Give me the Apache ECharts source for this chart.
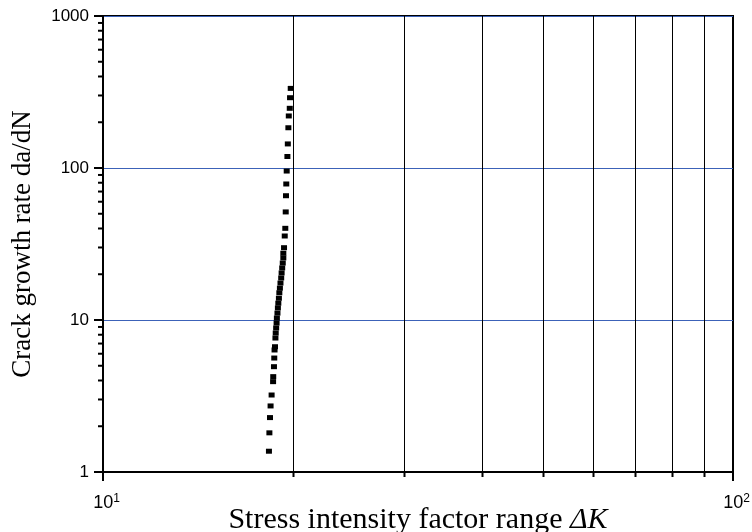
<!DOCTYPE html>
<html>
<head>
<meta charset="utf-8">
<script src="https://cdn.jsdelivr.net/npm/echarts@6/dist/echarts.min.js"></script>
<style>
  html, body { margin: 0; padding: 0; background: #fff; }
  #main { width: 752px; height: 532px; }
</style>
</head>
<body>
<div id="main"></div>
<script>
// measured points: stress intensity factor range (x), crack growth rate (y)
var deltaK = [
  19.86, 19.81, 19.79, 19.72, 19.69, 19.65, 19.62, 19.57, 19.54, 19.52,
  19.50, 19.47, 19.43, 19.38, 19.33,
  19.33, 19.29, 19.25, 19.21, 19.18, 19.13, 19.09, 19.05, 19.02, 18.98,
  18.95, 18.92, 18.88, 18.86, 18.83, 18.80, 18.78,
  18.75, 18.72, 18.70, 18.68, 18.63, 18.62, 18.52, 18.45, 18.41, 18.37, 18.34
];
var rate = [
  334, 290, 247, 220, 184, 144, 119, 95.5, 78.5, 65.7,
  51.4, 40.1, 35.7, 29.9, 27.5,
  25.6, 23.7, 22.0, 20.4, 18.9, 17.5, 16.2, 15.1, 13.9, 12.9,
  12.0, 11.1, 10.3, 9.55, 8.86, 8.21, 7.61,
  6.67, 6.35, 5.62, 4.93, 4.24, 3.93, 3.21, 2.72, 2.28, 1.81, 1.37
];

// minor tick positions for the two log axes
var xMinorTicks = [20, 30, 40, 50, 60, 70, 80, 90];
var yMinorTicks = [2, 3, 4, 5, 6, 7, 8, 9, 20, 30, 40, 50, 60, 70, 80, 90,
                   200, 300, 400, 500, 600, 700, 800, 900];

var points = [];
for (var i = 0; i < deltaK.length; i++) {
  points.push([deltaK[i], rate[i]]);
}

var labelFont = "'Liberation Sans', Arial, sans-serif";
var titleFont = "'Liberation Serif', 'Times New Roman', serif";

var myChart = echarts.init(document.getElementById('main'));

option = {
  backgroundColor: '#fff',
  animation: false,
  grid: {
    left: 103,
    right: 19,
    top: 16,
    bottom: 60,
    outerBoundsMode: 'none',
    containLabel: false,
    show: true,
    borderColor: '#000',
    borderWidth: 2,
    backgroundColor: 'transparent'
  },
  xAxis: {
    type: 'log',
    logBase: 10,
    min: 10,
    max: 100,
    name: 'Stress intensity factor range {i|ΔK}',
    nameLocation: 'middle',
    nameGap: 33,
    nameMoveOverlap: false,
    nameTextStyle: {
      fontFamily: titleFont,
      fontSize: 30,
      color: '#000',
      rich: {
        i: { fontFamily: titleFont, fontSize: 30, fontStyle: 'italic', color: '#000' }
      }
    },
    axisLine: { show: true, lineStyle: { color: '#000', width: 2 } },
    axisTick: { show: true, inside: false, length: 9, lineStyle: { color: '#000', width: 2 } },
    splitLine: { show: false },
    axisLabel: {
      margin: 21,
      color: '#000',
      padding: [0, 0, 0, 7],
      formatter: function (v) {
        return '{b|10}{sup|' + Math.round(Math.log(v) / Math.LN10) + '}';
      },
      rich: {
        b: { fontFamily: labelFont, fontSize: 18, lineHeight: 20, color: '#000' },
        sup: { fontFamily: labelFont, fontSize: 12, lineHeight: 6, verticalAlign: 'top', color: '#000' }
      }
    }
  },
  yAxis: {
    type: 'log',
    logBase: 10,
    min: 1,
    max: 1000,
    name: 'Crack growth rate da/dN',
    nameLocation: 'middle',
    nameGap: 67,
    nameMoveOverlap: false,
    nameTextStyle: {
      fontFamily: titleFont,
      fontSize: 27,
      color: '#000'
    },
    axisLine: { show: true, lineStyle: { color: '#000', width: 2 } },
    axisTick: { show: true, inside: false, length: 9, lineStyle: { color: '#000', width: 2 } },
    splitLine: { show: true, lineStyle: { color: '#3c62b8', width: 1 } },
    axisLabel: {
      margin: 14,
      color: '#000',
      fontFamily: labelFont,
      fontSize: 17,
      formatter: function (v) { return String(Math.round(v)); }
    }
  },
  series: [
    {
      // vertical grid lines at the minor x positions + their short ticks
      type: 'custom',
      silent: true,
      clip: false,
      z: 1,
      data: xMinorTicks.map(function (v) { return [v, 1]; }),
      renderItem: function (params, api) {
        var bottom = api.coord([api.value(0), 1]);
        var top = api.coord([api.value(0), 1000]);
        var x = Math.round(bottom[0]) + 0.5;
        return {
          type: 'group',
          children: [
            { type: 'line', shape: { x1: x, y1: top[1], x2: x, y2: bottom[1] }, style: { stroke: '#000', lineWidth: 1 } },
            { type: 'line', shape: { x1: x, y1: bottom[1], x2: x, y2: bottom[1] + 5 }, style: { stroke: '#000', lineWidth: 2 } }
          ]
        };
      }
    },
    {
      // minor ticks on the y axis
      type: 'custom',
      silent: true,
      clip: false,
      z: 1,
      data: yMinorTicks.map(function (v) { return [10, v]; }),
      renderItem: function (params, api) {
        var p = api.coord([10, api.value(1)]);
        return {
          type: 'line',
          shape: { x1: p[0] - 5, y1: p[1], x2: p[0], y2: p[1] },
          style: { stroke: '#000', lineWidth: 2 }
        };
      }
    },
    {
      name: 'da/dN',
      type: 'scatter',
      symbol: 'rect',
      symbolSize: [6, 5],
      z: 3,
      itemStyle: { color: '#000', opacity: 1 },
      data: points
    }
  ]
};

myChart.setOption(option);
</script>
</body>
</html>
